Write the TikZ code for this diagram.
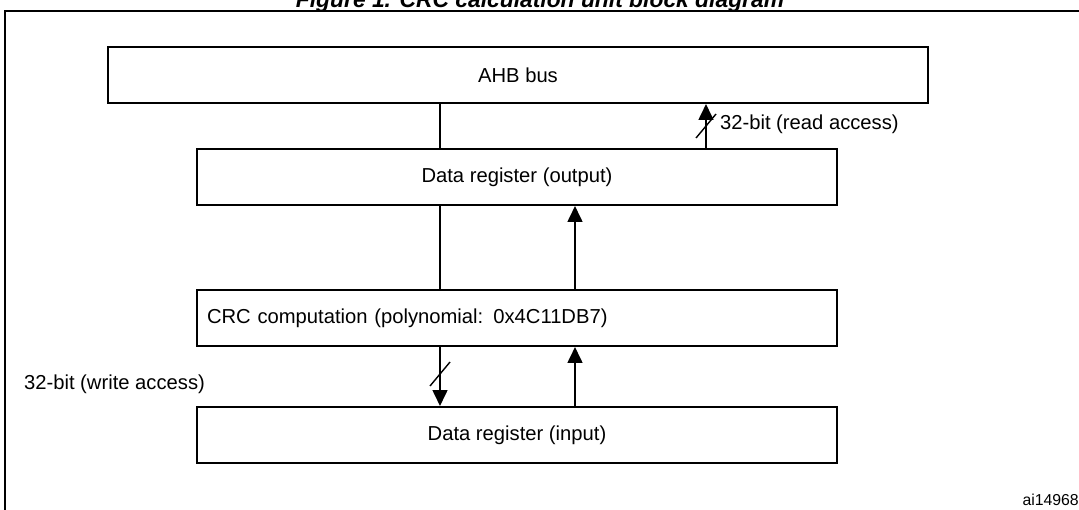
\documentclass[tikz,border=0pt]{standalone}
\usepackage{fontspec}
\setmainfont{Liberation Sans}
\usetikzlibrary{arrows.meta,calc}
\tikzset{
  blk/.style={draw, line width=1.2pt, minimum height=1.12cm, inner sep=0pt, font=\fontsize{11.5}{13}\selectfont},
  bus/.style={line width=0.8pt},
  arr/.style={bus, -{Triangle[length=9pt, width=8.5pt]}},
  lbl/.style={font=\fontsize{11.5}{13}\selectfont, inner sep=1pt}
}
\begin{document}
\begin{tikzpicture}[x=0.02cm, y=-0.02cm]
    \clip (0,0) rectangle (1079,510);
    \useasboundingbox (0,0) rectangle (1079,510);
    % Title and frame
    \node[font=\bfseries\itshape\fontsize{13}{15}\selectfont] (title) at (540,2) {Figure 1. CRC calculation unit block diagram};
    \draw[line width=1.2pt] (5,530) -- (5,11) -- (1090,11);
    \node[font=\fontsize{9}{11}\selectfont, anchor=east] (ref) at (1085,500) {ai14968};

    % Blocks
    \node[blk, minimum width=16.4cm] (ahb) at (518,75) {AHB bus};
    \node[blk, minimum width=12.8cm] (dout) at (517,177) {Data register (output)};
    \node[blk, minimum width=12.8cm, text width=12.4cm, align=left] (crc) at (517,318) {CRC computation (polynomial: 0x4C11DB7)};
    \node[blk, minimum width=12.8cm] (din) at (517,435) {Data register (input)};

    % Connections
    \draw[bus] (ahb.south -| 440,0) -- (dout.north -| 440,0);
    \draw[arr] (dout.north -| 706,0) -- (ahb.south -| 706,0);
    \draw[bus] (dout.south -| 440,0) -- (crc.north -| 440,0);
    \draw[arr] (crc.north -| 575,0) -- (dout.south -| 575,0);
    \draw[arr] (crc.south -| 440,0) -- (din.north -| 440,0);
    \draw[arr] (din.north -| 575,0) -- (crc.south -| 575,0);

    % Width marks
    \coordinate (rslash) at (706,126);
    \coordinate (wslash) at (440,374);
    \draw[bus] ($(rslash)+(-10,12)$) -- ($(rslash)+(10,-12)$);
    \draw[bus] ($(wslash)+(-10,12)$) -- ($(wslash)+(10,-12)$);
    \node[lbl, anchor=west] (rd) at (718,124) {32-bit (read access)};
    \node[lbl, anchor=west] (wr) at (22,384) {32-bit (write access)};
\end{tikzpicture}
\end{document}
